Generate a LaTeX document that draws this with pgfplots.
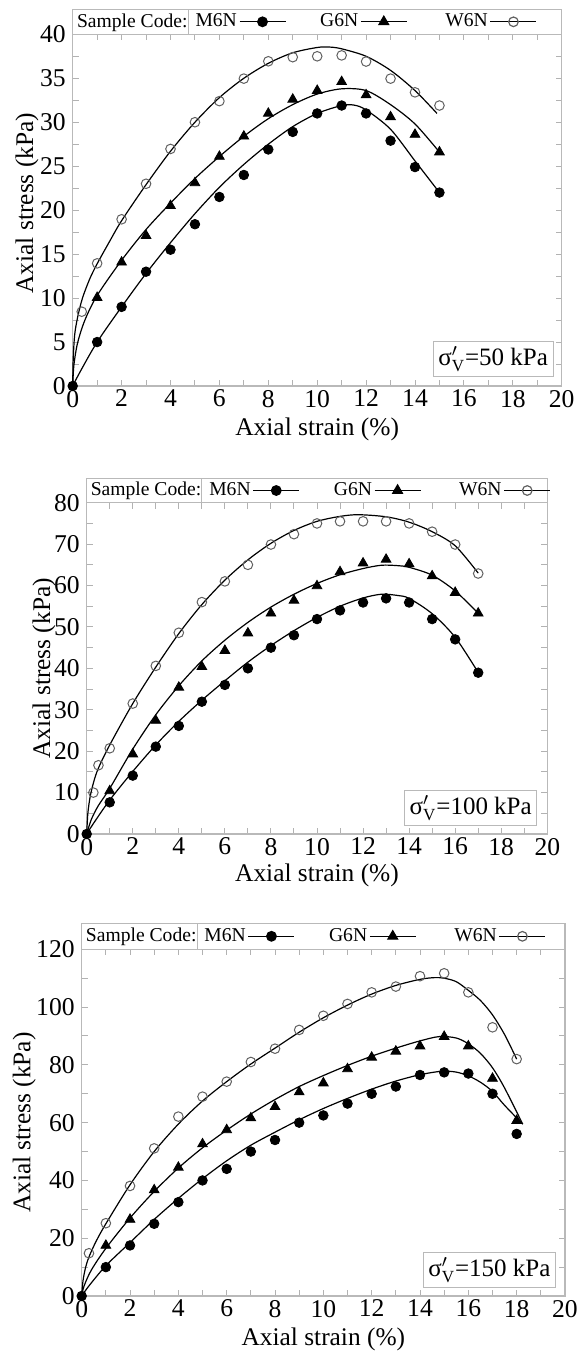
\documentclass[border=0pt]{standalone}
\usepackage{fontspec}
\setmainfont{Liberation Serif}
\usepackage{pgfplots}
\pgfplotsset{compat=1.18}
\pgfplotsset{
 panel/.style={
  scale only axis, clip=false,
  xmin=0, xmax=20, ymin=0,
  xtick={0,2,...,20}, minor x tick num=1, minor y tick num=1,
  tick align=inside, xtick pos=both, ytick pos=both,
  axis line style={gray!55, line width=0.6pt}, tick style={gray!60, line width=0.5pt},
  major tick length=3pt, minor tick length=3pt,
  ticklabel style={font=\fontsize{12.8}{14}\selectfont},
  xticklabel style={inner sep=1.8pt},
  label style={font=\fontsize{12.7}{14}\selectfont},
  xlabel={Axial strain (\%)}, ylabel={Axial stress (kPa)},
  xlabel style={at={(axis description cs:0.5,-0.124)}, anchor=center},
  /pgf/number format/assume math mode=true,
  legend columns=4, legend plot pos=right,
  legend style={draw=none, fill=none, font=\fontsize{9.8}{11}\selectfont, anchor=west, inner sep=0pt,
    nodes={inner xsep=0pt, inner ysep=1pt},
    /tikz/every odd column/.append style={column sep=1pt},
    /tikz/every even column/.append style={column sep=0pt}},
 },
 limg/.style={legend image code/.code={\draw[mark repeat=2, mark phase=2, ##1] plot coordinates {(0pt,0pt) (11.5pt,0pt) (23pt,0pt)};}},
 msty/.style={only marks, mark=*, mark size=2.4pt, black},
 gsty/.style={only marks, mark=triangle*, mark size=2.8pt, black},
 wsty/.style={only marks, mark=o, mark size=2.4pt, gray!75!black, mark options={line width=0.5pt}},
 fit/.style={smooth, no marks, black, line width=0.6pt},
}
\newcommand{\legendset}{%
  \addlegendimage{empty legend}\addlegendentry{Sample Code:}
  \addlegendimage{limg, black, line width=0.6pt, mark=*, mark size=2.4pt}\addlegendentry{\hspace*{3pt}M6N}
  \addlegendimage{limg, black, line width=0.6pt, mark=triangle*, mark size=2.8pt}\addlegendentry{\hspace*{17pt}G6N}
  \addlegendimage{limg, black, line width=0.6pt, mark=o, mark size=2.4pt, mark options={gray!75!black}}\addlegendentry{\hspace*{19pt}W6N}}
\newcommand{\sig}[1]{$\mbox{σ}'_{\mbox{\fontsize{8.5}{9}\selectfont V}}$=#1 kPa}
\begin{document}
\begin{tikzpicture}
\useasboundingbox (0,0) rectangle (292.5pt,-677pt);
% ---------------- Panel 1 ----------------
\begin{axis}[panel, at={(36.35pt,-193pt)}, anchor=south west, width=244.5pt, height=175.85pt,
  ymax=40, ytick={0,5,...,40},
  ylabel style={at={(axis description cs:-0.0935,0.52)}, anchor=center},
  legend style={at={(axis description cs:0.008,1.0355)}}]
\legendset
\addplot[fit, forget plot] coordinates {(0,0)(0.02,3)(0.08,5.8)(0.2,7.8)(0.4,10)(0.7,12.2)(1,13.9)(1.5,16.4)(2,18.8)(3,22.9)(4,26.7)(5,30.0)(6,32.8)(7,35.0)(8,36.7)(9,37.9)(10,38.5)(10.5,38.55)(11,38.35)(12,37.5)(13,35.9)(14,33.6)(14.9,31.0)};
\addplot[fit, forget plot] coordinates {(0,0)(0.05,2.4)(0.2,4.9)(0.5,7.5)(1,10.3)(2,14.3)(3,17.8)(4,20.8)(5,23.6)(6,26.1)(7,28.4)(8,30.4)(9,32.0)(10,33.2)(11,33.8)(12,33.6)(13,32.0)(14,29.8)(15,26.6)};
\addplot[fit, forget plot] coordinates {(0,0)(0.3,1.6)(1,5.0)(2,9.0)(3,12.8)(4,16.3)(5,19.6)(6,22.6)(7,25.2)(8,27.5)(9,29.5)(10,31.0)(11,31.9)(11.5,31.95)(12,31.4)(13,29.2)(14,25.6)(15,22.0)};
\addplot[wsty, forget plot] coordinates {(0.37,8.45)(1,13.95)(2,18.96)(3,23.0)(4,26.96)(5,30.0)(6,32.4)(7,34.96)(8,36.93)(9,37.4)(10,37.5)(11,37.6)(12,36.9)(13,34.96)(14,33.4)(15,31.9)};
\addplot[gsty, forget plot] coordinates {(1,10.05)(2,14.07)(3,17.1)(4,20.5)(5,23.1)(6,26.1)(7,28.4)(8,31.0)(9,32.6)(10,33.6)(11,34.6)(12,33.1)(13,30.6)(14,28.6)(15,26.6)};
\addplot[msty, forget plot] coordinates {(0,0)(1,5)(2,9)(3,13)(4,15.5)(5,18.4)(6,21.5)(7,24)(8,26.9)(9,28.9)(10,31)(11,31.9)(12,31)(13,27.9)(14,24.9)(15,22)};
\draw[gray!55, line width=0.6pt] (rel axis cs:0,1) rectangle (rel axis cs:1,1.0711);
\draw[gray!55, line width=0.6pt] (rel axis cs:0.237,1) -- (rel axis cs:0.237,1.0711);
\node[draw=gray!55, fill=white, anchor=south east, inner xsep=2.5pt, inner ysep=2.5pt, font=\fontsize{12.5}{14}\selectfont] at (rel axis cs:0.983,0.026) {\sig{50}};
\end{axis}
% ---------------- Panel 2 ----------------
\begin{axis}[panel, at={(43.35pt,-417pt)}, anchor=south west, width=230.3pt, height=165.65pt,
  ymax=80, ytick={0,10,...,80},
  ylabel style={at={(axis description cs:-0.0927,0.5)}, anchor=center},
  legend style={at={(axis description cs:0.008,1.0368)}}]
\legendset
\addplot[fit, forget plot] coordinates {(0,0)(0.05,5)(0.15,9)(0.3,12.5)(0.5,15.8)(1,21.5)(2,31.5)(3,40.3)(4,48.4)(5,55.4)(6,61.3)(7,66.2)(8,70.2)(9,73.3)(10,75.5)(11,76.7)(11.8,77.1)(13,76.6)(14,75.3)(15,73.0)(16,69.6)(17,63.0)};
\addplot[fit, forget plot] coordinates {(0,0)(0.2,3.5)(0.5,6.8)(1,11)(2,20.5)(3,28.8)(4,35.8)(5,41.8)(6,46.8)(7,51.1)(8,54.8)(9,57.9)(10,60.5)(11,62.6)(12,64.1)(12.8,64.9)(13.5,64.8)(14,64.4)(15,62.5)(16,58.7)(17,53.3)};
\addplot[fit, forget plot] coordinates {(0,0)(0.3,2.6)(1,8.2)(2,15.1)(3,21.5)(4,27.2)(5,32.3)(6,37.0)(7,41.5)(8,45.5)(9,49.1)(10,52.3)(11,55.0)(12,57.0)(12.8,57.9)(13.5,57.6)(14,56.9)(15,53.2)(16,47.5)(17,39.0)};
\addplot[wsty, forget plot] coordinates {(0.29,10.0)(0.51,16.6)(1,20.7)(2,31.5)(3,40.6)(4,48.6)(5,56.0)(6,61.0)(7,65.0)(8,69.9)(9,72.4)(10,75.0)(11,75.5)(12,75.5)(13,75.5)(14,75.0)(15,73.0)(16,69.9)(17,62.9)};
\addplot[gsty, forget plot] coordinates {(1,10.4)(2,19.3)(3,27.4)(4,35.4)(5,40.4)(6,44.3)(7,48.5)(8,53.3)(9,56.4)(10,59.9)(11,63.3)(12,65.4)(13,66.3)(14,65.2)(15,62.3)(16,58.3)(17,53.3)};
\addplot[msty, forget plot] coordinates {(0,0)(1,7.65)(2,14.1)(3,21.1)(4,26.1)(5,31.95)(6,36.0)(7,40.0)(8,45.0)(9,48.0)(10,51.9)(11,54.0)(12,55.9)(13,56.9)(14,55.9)(15,51.9)(16,47.0)(17,38.95)};
\draw[gray!55, line width=0.6pt] (rel axis cs:0,1) rectangle (rel axis cs:1,1.0737);
\draw[gray!55, line width=0.6pt] (rel axis cs:0.25,1) -- (rel axis cs:0.25,1.0737);
\node[draw=gray!55, fill=white, anchor=south east, inner xsep=2.5pt, inner ysep=2.5pt, font=\fontsize{12.5}{14}\selectfont] at (rel axis cs:0.978,0.025) {\sig{100}};
\end{axis}
% ---------------- Panel 3 ----------------
\begin{axis}[panel, at={(40.85pt,-648pt)}, anchor=south west, width=241.65pt, height=173.35pt,
  ymax=120, ytick={0,20,...,120},
  ylabel style={at={(axis description cs:-0.119,0.5)}, anchor=center},
  legend style={at={(axis description cs:0.008,1.0375)}}]
\legendset
\addplot[fit, forget plot] coordinates {(0,0)(0.05,5)(0.15,9.5)(0.3,13.5)(0.6,19)(1,25)(2,38.5)(3,50)(4,59.5)(5,67.5)(6,74.2)(7,80.3)(8,85.8)(9,91.3)(10,96.3)(11,100.7)(12,104.5)(13,107.5)(14,109.6)(14.6,110.2)(15,110)(15.5,108.8)(16,105.8)(16.5,102.3)(17,97.3)(17.5,90.5)(18,82)};
\addplot[fit, forget plot] coordinates {(0,0)(0.1,3.5)(0.4,9)(1,16.5)(2,27)(3,36.2)(4,44.3)(5,51.3)(6,57.4)(7,63)(8,68)(9,72.5)(10,76.3)(11,79.8)(12,83)(13,85.8)(14,88.3)(14.8,89.8)(15.5,89.3)(16,87.3)(16.5,84)(17,79)(17.5,72)(18.25,59.5)};
\addplot[fit, forget plot] coordinates {(0,0)(0.3,3.5)(1,10.5)(2,18.5)(3,26.5)(4,33.8)(5,40.6)(6,46.8)(7,52.2)(8,56.7)(9,61)(10,64.9)(11,68.4)(12,71.6)(13,74.4)(14,76.6)(14.9,77.8)(15.5,77.5)(16,76.2)(16.5,74)(17,70.8)(17.5,66)(18.25,59.5)};
\addplot[wsty, forget plot] coordinates {(0.3,14.8)(1,25.2)(2,38.1)(3,51.1)(4,62.1)(5,69.0)(6,74.2)(7,81.0)(8,85.6)(9,92.1)(10,97.0)(11,101.1)(12,105.1)(13,107.1)(14,110.7)(15,111.7)(16,105.1)(17,93.0)(18,82.0)};
\addplot[gsty, forget plot] coordinates {(1,17.5)(2,26.5)(3,36.7)(4,44.5)(5,52.6)(6,57.5)(7,61.6)(8,65.5)(9,70.6)(10,73.7)(11,78.6)(12,82.6)(13,84.7)(14,86.5)(15,89.8)(16,86.5)(17,75.3)(18,60.7)};
\addplot[msty, forget plot] coordinates {(0,0)(1,10.0)(2,17.5)(3,25.0)(4,32.5)(5,40.0)(6,44.0)(7,50.0)(8,54.0)(9,60.0)(10,62.5)(11,66.6)(12,70.0)(13,72.5)(14,76.5)(15,77.4)(16,77.0)(17,70.0)(18,56.1)};
\draw[gray!55, line width=0.6pt] (rel axis cs:0,1) rectangle (rel axis cs:1,1.075);
\draw[gray!55, line width=0.6pt] (rel axis cs:0.239,1) -- (rel axis cs:0.239,1.075);
\node[draw=gray!55, fill=white, anchor=south east, inner xsep=2.5pt, inner ysep=2.5pt, font=\fontsize{12.5}{14}\selectfont] at (rel axis cs:0.981,0.024) {\sig{150}};
\end{axis}
\end{tikzpicture}
\end{document}
